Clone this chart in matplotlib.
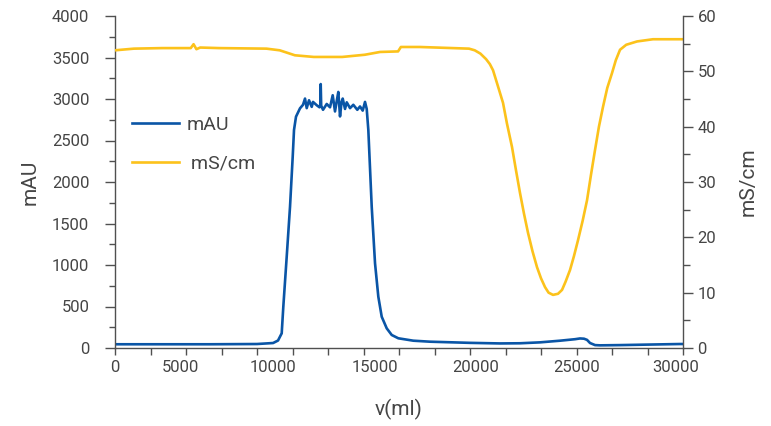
import matplotlib
matplotlib.use("Agg")
import matplotlib.pyplot as plt
import numpy as np

plt.rcParams["font.family"] = ["Roboto", "DejaVu Sans"]

# UV absorbance (mAU) vs volume
mau_v = [0, 5000, 7500, 8350, 8610, 8805, 8890, 9069, 9244, 9386, 9455, 9560, 9772,
         9930, 10036, 10126, 10247, 10390, 10458, 10654, 10802, 10840, 10865, 10890,
         10987, 11182, 11357, 11499, 11620, 11700, 11795, 11885, 11964, 12027, 12149,
         12239, 12413, 12587, 12798, 12941, 13083, 13205, 13295,
         13380, 13559, 13734, 13908, 14087, 14351, 14615, 14964, 15756, 16638,
         18751, 20336, 21392, 22449, 23505, 24297, 24561, 24772, 24931, 25090,
         25354, 25619, 26674, 29842, 30000]
mau = [45, 45, 48, 60, 90, 177, 498, 1100, 1702, 2305, 2627, 2787, 2888,
       2930, 3005, 2890, 2985, 2905, 2965, 2925, 2900, 2910, 3180, 2920,
       2870, 2940, 2900, 3045, 2850, 2960, 3085, 2790, 2960, 3005, 2880,
       2960, 2890, 2930, 2870, 2910, 2860, 2965, 2880,
       2627, 1702, 1020, 618, 377, 237, 157, 117, 88, 76,
       62, 55, 57, 68, 88, 106, 115, 112, 98, 60,
       35, 32, 35, 48, 48]

# conductivity (mS/cm) vs volume
cond_v = [0, 1000, 2500, 4000, 4150, 4300, 4500, 5500, 8000, 8700, 9500, 10500,
          12000, 13200, 14000, 14950, 15100, 16100, 18700, 19000, 19300, 19600,
          19800, 19966, 20200, 20494, 20700, 20970, 21180, 21392, 21600, 21815,
          22050, 22290, 22500, 22713, 22900, 23135, 23400, 23611, 23800, 24033,
          24240, 24456, 24700, 24931, 25140, 25354, 25560, 25776, 26000, 26252,
          26450, 26674, 27000, 27572, 28417, 30000]
cond = [53.8, 54.1, 54.2, 54.2, 54.9, 54.0, 54.3, 54.2, 54.1, 53.8, 52.9, 52.6,
        52.6, 53.0, 53.5, 53.6, 54.4, 54.4, 54.1, 53.8, 53.2, 52.2,
        51.3, 50.2, 47.6, 44.3, 40.6, 36.3, 32.1, 28.0, 24.3, 20.8,
        17.5, 14.6, 12.6, 11.0, 10.0, 9.6, 9.8, 10.5, 12.0, 14.1,
        16.6, 19.5, 23.0, 26.7, 31.3, 35.8, 40.0, 43.6, 47.0, 49.7,
        52.0, 53.9, 54.8, 55.4, 55.8, 55.8]

x_labels = ["0", "5000", "10000", "15000", "20000", "25000", "30000"]
x_label_pos = [0, 3433, 8319, 13733, 19068, 24387, 29632]

blue = "#0a55a6"
yellow = "#fcc21b"
grey = "#454545"
spine = "#505050"

fig = plt.figure(figsize=(7.71, 4.26), dpi=100)
ax = fig.add_axes([115 / 771, 1 - 348 / 426, 568 / 771, 332 / 426])
ax2 = ax.twinx()

l1, = ax.plot(mau_v, mau, color=blue, lw=1.9, label="mAU")
l2, = ax2.plot(cond_v, cond, color=yellow, lw=1.9, label=" mS/cm")

ax.set_xlim(0, 30000)
ax.set_ylim(0, 4000)
ax2.set_ylim(0, 60)

ax.set_yticks(np.arange(0, 4001, 500))
ax.set_yticks(np.arange(250, 4000, 500), minor=True)
ax2.set_yticks(np.arange(0, 61, 10))
ax2.set_yticks(np.arange(5, 60, 10), minor=True)

ax.xaxis.remove_overlapping_locs = False
ax.set_xticks(np.linspace(0, 30000, 17))
ax.set_xticklabels([])
ax.set_xticks(x_label_pos, x_labels, minor=True)

for s in ["top", "right"]:
    ax.spines[s].set_visible(False)
for s in ["top", "left", "bottom"]:
    ax2.spines[s].set_visible(False)
ax.spines["left"].set_color(spine)
ax.spines["bottom"].set_color(spine)
ax2.spines["right"].set_color(spine)
for a in (ax, ax2):
    for s in a.spines.values():
        s.set_linewidth(1.0)

ax.tick_params(axis="y", which="major", length=7.5, width=1, color=spine,
               labelsize=12, labelcolor=grey, pad=11)
ax.tick_params(axis="y", which="minor", length=4.5, width=1, color=spine)
ax.tick_params(axis="x", which="major", length=5, width=1, color=spine)
ax.tick_params(axis="x", which="minor", length=0, labelsize=12,
               labelcolor=grey, pad=9)
ax2.tick_params(axis="y", which="major", length=7.5, width=1, color=spine,
                labelsize=12, labelcolor=grey, pad=3)
ax2.tick_params(axis="y", which="minor", length=5, width=1, color=spine)

ax.set_ylabel("mAU", fontsize=15, color=grey, labelpad=9)
ax2.set_ylabel("mS/cm", fontsize=15, color=grey, labelpad=16)
ax.set_xlabel("v(ml)", fontsize=15, color=grey, labelpad=17)

ax2.legend(handles=[l1, l2], loc="upper left", bbox_to_anchor=(132 / 771, 1 - 116 / 426),
           bbox_transform=fig.transFigure, frameon=False, fontsize=14,
           handlelength=2.4, handletextpad=0.4, labelspacing=1.05,
           borderpad=0, borderaxespad=0, labelcolor=grey)

fig.savefig("out.png", dpi=100)
